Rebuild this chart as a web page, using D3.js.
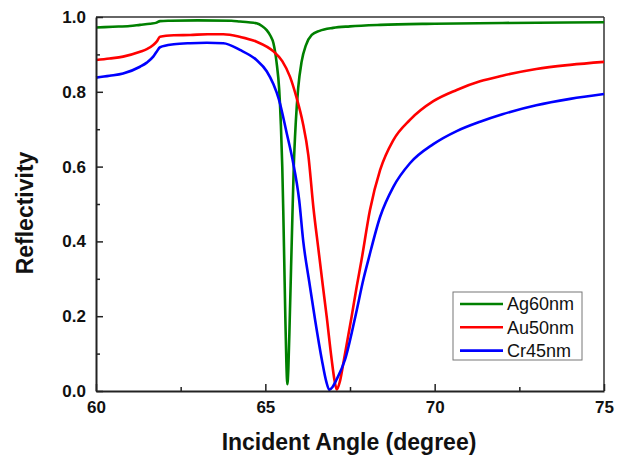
<!DOCTYPE html>
<html><head><meta charset="utf-8">
<script src="https://cdn.jsdelivr.net/npm/d3@7"></script>
<style>body{margin:0;background:#fff}svg{display:block}</style>
</head><body><div id="c"></div>
<script>
const seriesNames = ["Ag60nm","Au50nm","Cr45nm"];
const seriesColors = ["#008000","#ff0000","#0000ff"];
const xTicks = [60,65,70,75];
const xMinor = [62.5,67.5,72.5];
const yTicks = [0.0,0.2,0.4,0.6,0.8,1.0];
const yMinor = [0.1,0.3,0.5,0.7,0.9];

const ag60 = [[60,0.972],[60.5,0.974],[61,0.976],[61.3,0.979],[61.6,0.982],[61.79,0.985],[61.89,0.989],[62.2,0.99],[63,0.991],[64,0.99],[64.25,0.988],[64.5,0.986],[64.74,0.983],[64.9,0.976],[65.04,0.965],[65.15,0.95],[65.24,0.93],[65.33,0.88],[65.41,0.805],[65.46,0.71],[65.5,0.6],[65.53,0.48],[65.56,0.34],[65.59,0.2],[65.62,0.08],[65.65,0.018],[65.68,0.06],[65.72,0.19],[65.76,0.33],[65.8,0.47],[65.84,0.6],[65.9,0.72],[65.97,0.81],[66.07,0.88],[66.2,0.925],[66.37,0.952],[66.6,0.963],[67,0.971],[67.5,0.975],[68.4,0.979],[70,0.982],[72,0.984],[75,0.986]];

const au50 = [[60,0.885],[60.4,0.889],[60.8,0.894],[61.3,0.907],[61.5,0.914],[61.69,0.925],[61.79,0.934],[61.89,0.947],[62.3,0.951],[62.78,0.952],[63.3,0.954],[63.76,0.954],[64.25,0.947],[64.74,0.934],[65.24,0.908],[65.5,0.882],[65.73,0.84],[65.92,0.785],[66.1,0.72],[66.27,0.63],[66.42,0.49],[66.57,0.377],[66.7,0.28],[66.81,0.2],[66.96,0.083],[67.04,0.03],[67.11,0.004],[67.2,0.025],[67.32,0.083],[67.55,0.2],[67.7,0.28],[67.84,0.35],[68.09,0.484],[68.39,0.591],[68.78,0.671],[69.27,0.725],[69.96,0.775],[70.65,0.805],[71.34,0.828],[72,0.843],[73,0.861],[74,0.872],[75,0.88]];

const cr45 = [[60,0.838],[60.4,0.843],[60.8,0.849],[61.3,0.867],[61.5,0.878],[61.69,0.894],[61.79,0.907],[61.89,0.919],[62.3,0.927],[62.78,0.93],[63.27,0.931],[63.76,0.93],[64.25,0.912],[64.74,0.885],[65.04,0.855],[65.24,0.82],[65.4,0.78],[65.63,0.69],[65.8,0.62],[66.0,0.51],[66.12,0.4],[66.3,0.29],[66.47,0.19],[66.67,0.083],[66.8,0.025],[66.89,0.003],[66.98,0.01],[67.1,0.03],[67.35,0.083],[67.66,0.2],[67.9,0.3],[68.04,0.35],[68.39,0.466],[68.78,0.546],[69.27,0.609],[69.96,0.66],[70.65,0.695],[71.34,0.72],[72,0.74],[73,0.764],[74,0.781],[75,0.794]];

const series = [ag60, au50, cr45];

const W = 624, H = 457;
const m = {l:96, r:604, t:17, b:391};
const x = d3.scaleLinear().domain([60,75]).range([m.l, m.r]);
const y = d3.scaleLinear().domain([0,1]).range([m.b, m.t]);

const svg = d3.select("#c").append("svg").attr("width",W).attr("height",H)
  .style("font-family","'Liberation Sans', Arial, sans-serif");

// frame top/right
svg.append("line").attr("x1",m.l).attr("x2",m.r).attr("y1",m.t).attr("y2",m.t).attr("stroke","#333").attr("stroke-width",1.5);
svg.append("line").attr("x1",m.r).attr("x2",m.r).attr("y1",m.t).attr("y2",m.b).attr("stroke","#333").attr("stroke-width",1.5);

const line = d3.line().x(d=>x(d[0])).y(d=>y(d[1])).curve(d3.curveMonotoneX);
const g = svg.append("g");
series.forEach((s,i)=>{
  g.append("path").datum(s).attr("d",line).attr("fill","none")
   .attr("stroke",seriesColors[i]).attr("stroke-width",2.6).attr("stroke-linejoin","round");
});

// axes
const xAxis = d3.axisBottom(x).tickValues(xTicks).tickFormat(d3.format("d")).tickSizeInner(-7).tickSizeOuter(0).tickPadding(10);
svg.append("g").attr("transform",`translate(0,${m.b})`).call(xAxis);
const xAxisMinor = d3.axisBottom(x).tickValues(xMinor).tickFormat("").tickSizeInner(-4).tickSizeOuter(0);
svg.append("g").attr("transform",`translate(0,${m.b})`).call(xAxisMinor).select(".domain").remove();

const yAxis = d3.axisLeft(y).tickValues(yTicks).tickFormat(d3.format(".1f")).tickSizeInner(-7).tickSizeOuter(0).tickPadding(10);
svg.append("g").attr("transform",`translate(${m.l},0)`).call(yAxis);
const yAxisMinor = d3.axisLeft(y).tickValues(yMinor).tickFormat("").tickSizeInner(-4).tickSizeOuter(0);
svg.append("g").attr("transform",`translate(${m.l},0)`).call(yAxisMinor).select(".domain").remove();

svg.selectAll(".domain").attr("stroke","#222").attr("stroke-width",2);
svg.selectAll(".tick line").attr("stroke","#222").attr("stroke-width",1.5);
svg.selectAll(".tick text").attr("font-size",17).attr("font-weight","bold").attr("fill","#111")
  .attr("font-family","'Liberation Sans', Arial, sans-serif");

// titles
svg.append("text").attr("x",349).attr("y",450).attr("text-anchor","middle")
  .attr("font-size",23).attr("font-weight","bold").attr("fill","#111").text("Incident Angle (degree)");
svg.append("text").attr("transform",`translate(33,213) rotate(-90)`).attr("text-anchor","middle")
  .attr("font-size",23).attr("font-weight","bold").attr("fill","#111").text("Reflectivity");

// legend
const lg = svg.append("g");
lg.append("rect").attr("x",453).attr("y",292).attr("width",129).attr("height",68)
  .attr("fill","#fff").attr("stroke","#777").attr("stroke-width",1);
seriesNames.forEach((n,i)=>{
  const yy = 304 + i*23.3;
  lg.append("line").attr("x1",460).attr("x2",503).attr("y1",yy).attr("y2",yy)
    .attr("stroke",seriesColors[i]).attr("stroke-width",2.6);
  lg.append("text").attr("x",507).attr("y",yy).attr("dy","0.36em").attr("font-size",18)
    .attr("fill","#111").text(n);
});
</script></body></html>
